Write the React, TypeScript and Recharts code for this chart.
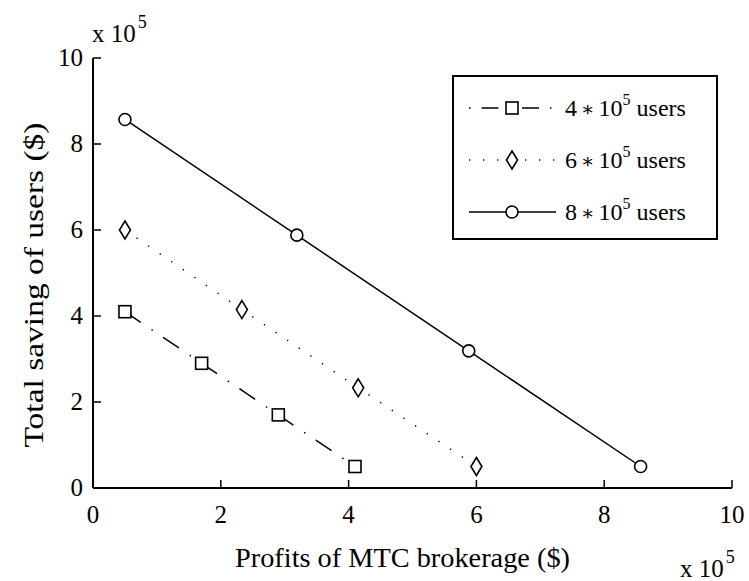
import React from "react";
import { Legend, Line, LineChart, XAxis, YAxis } from "recharts";

// values in units of 10^5
const axisTicks = [0, 2, 4, 6, 8, 10];

const profit4 = [0.5, 1.7, 2.9, 4.1];
const saving4 = [4.1, 2.9, 1.7, 0.5];
const profit6 = [0.5, 2.33, 4.15, 6.0];
const saving6 = [6.0, 4.15, 2.33, 0.5];
const profit8 = [0.5, 3.19, 5.88, 8.57];
const saving8 = [8.57, 5.88, 3.19, 0.5];

const userCounts = ["4", "6", "8"];

const serif = { fontFamily: '"Liberation Serif"' };
const starFont = { fontFamily: '"DejaVu Serif"' };

const toPoints = (xs: number[], ys: number[]) => xs.map((x, i) => ({ x, y: ys[i] }));

const series = [
  { key: "u4", data: toPoints(profit4, saving4), count: userCounts[0], shape: "square", dash: "19 13 1.5 12.5" },
  { key: "u6", data: toPoints(profit6, saving6), count: userCounts[1], shape: "diamond", dash: "1.3 12.7" },
  { key: "u8", data: toPoints(profit8, saving8), count: userCounts[2], shape: "circle", dash: undefined },
];

function Marker({ shape, cx, cy }: { shape: string; cx?: number; cy?: number }) {
  if (cx == null || cy == null) return null;
  const st = { fill: "#fff", stroke: "#000", strokeWidth: 1.6 };
  if (shape === "square") return <rect x={cx - 6} y={cy - 6} width={12} height={12} {...st} />;
  if (shape === "diamond")
    return (
      <polygon
        points={`${cx},${cy - 9} ${cx + 5.5},${cy} ${cx},${cy + 9} ${cx - 5.5},${cy}`}
        {...st}
      />
    );
  return <circle cx={cx} cy={cy} r={6} {...st} />;
}

function BottomTick({ x, y, payload }: any) {
  return (
    <g>
      <line x1={x} y1={y} x2={x} y2={y - 8} stroke="#000" strokeWidth={1.5} />
      <text x={x} y={y + 35} textAnchor="middle" fontSize={25} style={serif} fill="#000">
        {payload.value}
      </text>
    </g>
  );
}

function LeftTick({ x, y, payload }: any) {
  return (
    <g>
      <line x1={x} y1={y} x2={x + 8} y2={y} stroke="#000" strokeWidth={1.5} />
      <text x={x - 10} y={y + 8} textAnchor="end" fontSize={25} style={serif} fill="#000">
        {payload.value}
      </text>
    </g>
  );
}

function TopTick({ x, y }: any) {
  return <line x1={x} y1={y} x2={x} y2={y + 8} stroke="#000" strokeWidth={1.5} />;
}

function RightTick({ x, y }: any) {
  return <line x1={x} y1={y} x2={x - 8} y2={y} stroke="#000" strokeWidth={1.5} />;
}

function XTitle({ viewBox }: any) {
  const { x, y, width } = viewBox;
  return (
    <g fill="#000">
      <text
        x={x + width / 2 - 10}
        y={y + 79}
        textAnchor="middle"
        fontSize={28}
        style={serif}
        textLength={335}
        lengthAdjust="spacingAndGlyphs"
      >
        Profits of MTC brokerage ($)
      </text>
      <text x={x + width - 52} y={y + 89} fontSize={25} style={serif}>
        x 10
        <tspan dx={2} dy={-14} fontSize={18}>5</tspan>
      </text>
    </g>
  );
}

function YTitle({ viewBox }: any) {
  const { x, y, height } = viewBox;
  const cy = y + height / 2 + 12;
  return (
    <g fill="#000">
      <text
        x={x + 43}
        y={cy}
        transform={`rotate(-90 ${x + 43} ${cy})`}
        textAnchor="middle"
        fontSize={28}
        style={serif}
        textLength={325}
        lengthAdjust="spacingAndGlyphs"
      >
        Total saving of users ($)
      </text>
      <text x={x + 92} y={y - 16} fontSize={25} style={serif}>
        x 10
        <tspan dx={2} dy={-14} fontSize={18}>5</tspan>
      </text>
    </g>
  );
}

function LegendBox() {
  return (
    <svg width={266} height={165} style={{ display: "block" }}>
      <rect x={1} y={1} width={264} height={163} fill="#fff" stroke="#000" strokeWidth={2} />
      {series.map((s, i) => {
        const ry = 33 + i * 52;
        return (
          <g key={s.key}>
            <line
              x1={17}
              y1={ry}
              x2={104}
              y2={ry}
              stroke="#000"
              strokeWidth={1.5}
              strokeDasharray={s.shape === "square" ? "1.5 11 17 11" : s.dash}
            />
            <Marker shape={s.shape} cx={60} cy={ry} />
            <text x={113} y={ry + 8} fontSize={24} style={serif} fill="#000">
              {s.count}
              <tspan dx={4} fontSize={20} style={starFont}>∗</tspan>
              <tspan dx={4}>10</tspan>
              <tspan dy={-11} fontSize={16}>5</tspan>
              <tspan dy={11}> users</tspan>
            </text>
          </g>
        );
      })}
    </svg>
  );
}

export default function App() {
  return (
    <div
      style={{
        position: "absolute",
        left: 0,
        top: 0,
        width: 749,
        height: 581,
        background: "#fff",
        fontFamily: '"Liberation Serif", serif',
      }}
    >
      <LineChart width={749} height={581} margin={{ top: 58, right: 17, bottom: 0, left: 0 }}>
        <XAxis
          dataKey="x"
          type="number"
          domain={[0, 10]}
          ticks={axisTicks}
          allowDataOverflow
          height={93}
          tickSize={0}
          tickMargin={0}
          tick={<BottomTick />}
          axisLine={{ stroke: "#000", strokeWidth: 2 }}
          label={XTitle}
        />
        <XAxis
          xAxisId="top"
          orientation="top"
          dataKey="x"
          type="number"
          domain={[0, 10]}
          ticks={axisTicks}
          allowDataOverflow
          height={0}
          tickSize={0}
          tickMargin={0}
          tick={<TopTick />}
          axisLine={{ stroke: "#000", strokeWidth: 2 }}
        />
        <YAxis
          type="number"
          domain={[0, 10]}
          ticks={axisTicks}
          allowDataOverflow
          width={93}
          tickSize={0}
          tickMargin={0}
          tick={<LeftTick />}
          axisLine={{ stroke: "#000", strokeWidth: 2 }}
          label={YTitle}
        />
        <YAxis
          yAxisId="right"
          orientation="right"
          type="number"
          domain={[0, 10]}
          ticks={axisTicks}
          allowDataOverflow
          width={0}
          tickSize={0}
          tickMargin={0}
          tick={<RightTick />}
          axisLine={{ stroke: "#000", strokeWidth: 2 }}
        />
        <Legend
          layout="horizontal"
          verticalAlign="middle"
          align="center"
          content={() => <LegendBox />}
          wrapperStyle={{ left: 452, top: 75, width: 266, height: 165 }}
        />
        {series.map((s) => (
          <Line
            key={s.key}
            data={s.data}
            dataKey="y"
            name={`${s.count} * 10^5 users`}
            stroke="#000"
            strokeWidth={1.5}
            strokeDasharray={s.dash}
            isAnimationActive={false}
            dot={(p: any) => <Marker key={`${s.key}-${p.index}`} shape={s.shape} cx={p.cx} cy={p.cy} />}
            activeDot={false}
          />
        ))}
      </LineChart>
    </div>
  );
}
